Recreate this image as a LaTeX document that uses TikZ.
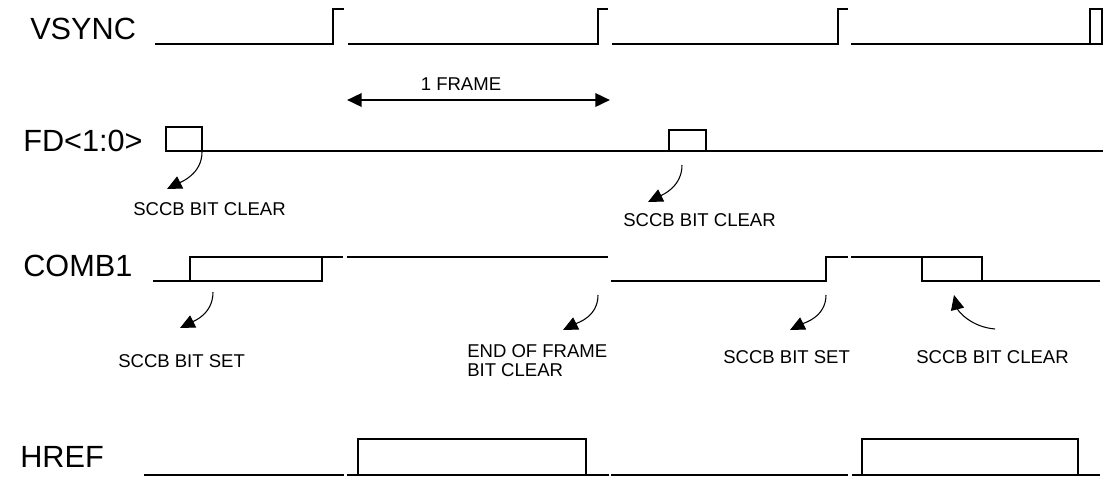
\documentclass[tikz,border=0pt]{standalone}
\usepackage{fontspec}
\setmainfont{Liberation Sans}
\usetikzlibrary{arrows.meta, positioning}

\begin{document}
\begin{tikzpicture}[x=0.75pt, y=-0.75pt,
  wave/.style={line width=1.9pt},
  sig/.style={font=\fontsize{23}{27}\selectfont, anchor=base west, inner sep=0pt},
  note/.style={font=\fontsize{13.9}{14.25}\selectfont, anchor=base west, inner sep=0pt, align=left},
  cue/.style={line width=0.8pt, -{Triangle[length=11pt, width=10pt]}}]

\useasboundingbox (0,0) rectangle (1118,476);

% Signal names
\node[sig] (vsync) at (30,39) {VSYNC};
\node[sig] (fd) at (23,151) {FD<1:0>};
\node[sig] (comb) at (23,276) {COMB1};
\node[sig] (href) at (20,467) {HREF};

% VSYNC: short pulse at the start of each frame
\foreach \lo/\hi/\e in {155/333/344, 348/598/608, 612/838/848}
  \draw[wave] (\lo,44) -- (\hi,44) -- (\hi,9) -- (\e,9);
\draw[wave] (851,44) -- (1102,44) -- (1102,9) -- (1090,9) -- (1090,44);

% One frame
\coordinate (frame0) at (347,100);
\coordinate (frame1) at (610,100);
\draw[line width=1.9pt, {Triangle[length=11pt, width=10pt]}-{Triangle[length=11pt, width=10pt]}]
  (frame0) -- (frame1);
\node[note, anchor=base] (framelbl) at (461,90) {1 FRAME};

% FD<1:0>
\draw[wave] (166,127) rectangle (202,151);
\draw[wave] (202,151) -- (669,151);
\draw[wave] (669,130) rectangle (706,151);
\draw[wave] (706,151) -- (1103,151);

% COMB1
\draw[wave] (153,281) -- (322,281) -- (322,257);
\draw[wave] (190,281) -- (190,257) -- (343,257);
\draw[wave] (347,257) -- (608,257);
\draw[wave] (611,281) -- (826,281) -- (826,257) -- (848,257);
\draw[wave] (851,257) -- (982,257) -- (982,281) -- (1100,281);
\draw[wave] (922,257) -- (922,281) -- (982,281);

% HREF
\draw[wave] (144,475) -- (344,475);
\draw[wave] (347,475) -- (609,475);
\draw[wave] (358,475) -- (358,439) -- (586,439) -- (586,475);
\draw[wave] (611,475) -- (848,475);
\draw[wave] (852,475) -- (1100,475);
\draw[wave] (862,475) -- (862,439) -- (1078,439) -- (1078,475);

% Notes
\node[note] (fdclr1) at (133,215) {SCCB BIT CLEAR};
\node[note] (fdclr2) at (623,226) {SCCB BIT CLEAR};
\node[note] (cbset1) at (118,367) {SCCB BIT SET};
\node[note] (eof) at (467,376) {END OF FRAME\\BIT CLEAR};
\node[note] (cbset2) at (723,363) {SCCB BIT SET};
\node[note] (cbclr) at (916,363) {SCCB BIT CLEAR};

% Pointers to the edges
\coordinate (p1s) at (202,152); \coordinate (p1t) at (167,189);
\coordinate (p2s) at (682,165); \coordinate (p2t) at (648,202);
\coordinate (p3s) at (213,292); \coordinate (p3t) at (180,328);
\coordinate (p4s) at (598,295); \coordinate (p4t) at (563,330);
\coordinate (p5s) at (826,295); \coordinate (p5t) at (790,330);
\coordinate (p6s) at (995,329); \coordinate (p6t) at (954,295);
\foreach \n in {1,...,5}
  \draw[cue] (p\n s) .. controls +(0,22) and +(14,-7) .. (p\n t);
\draw[cue] (p6s) .. controls +(-24,-2) and +(4,16) .. (p6t);

\end{tikzpicture}
\end{document}
